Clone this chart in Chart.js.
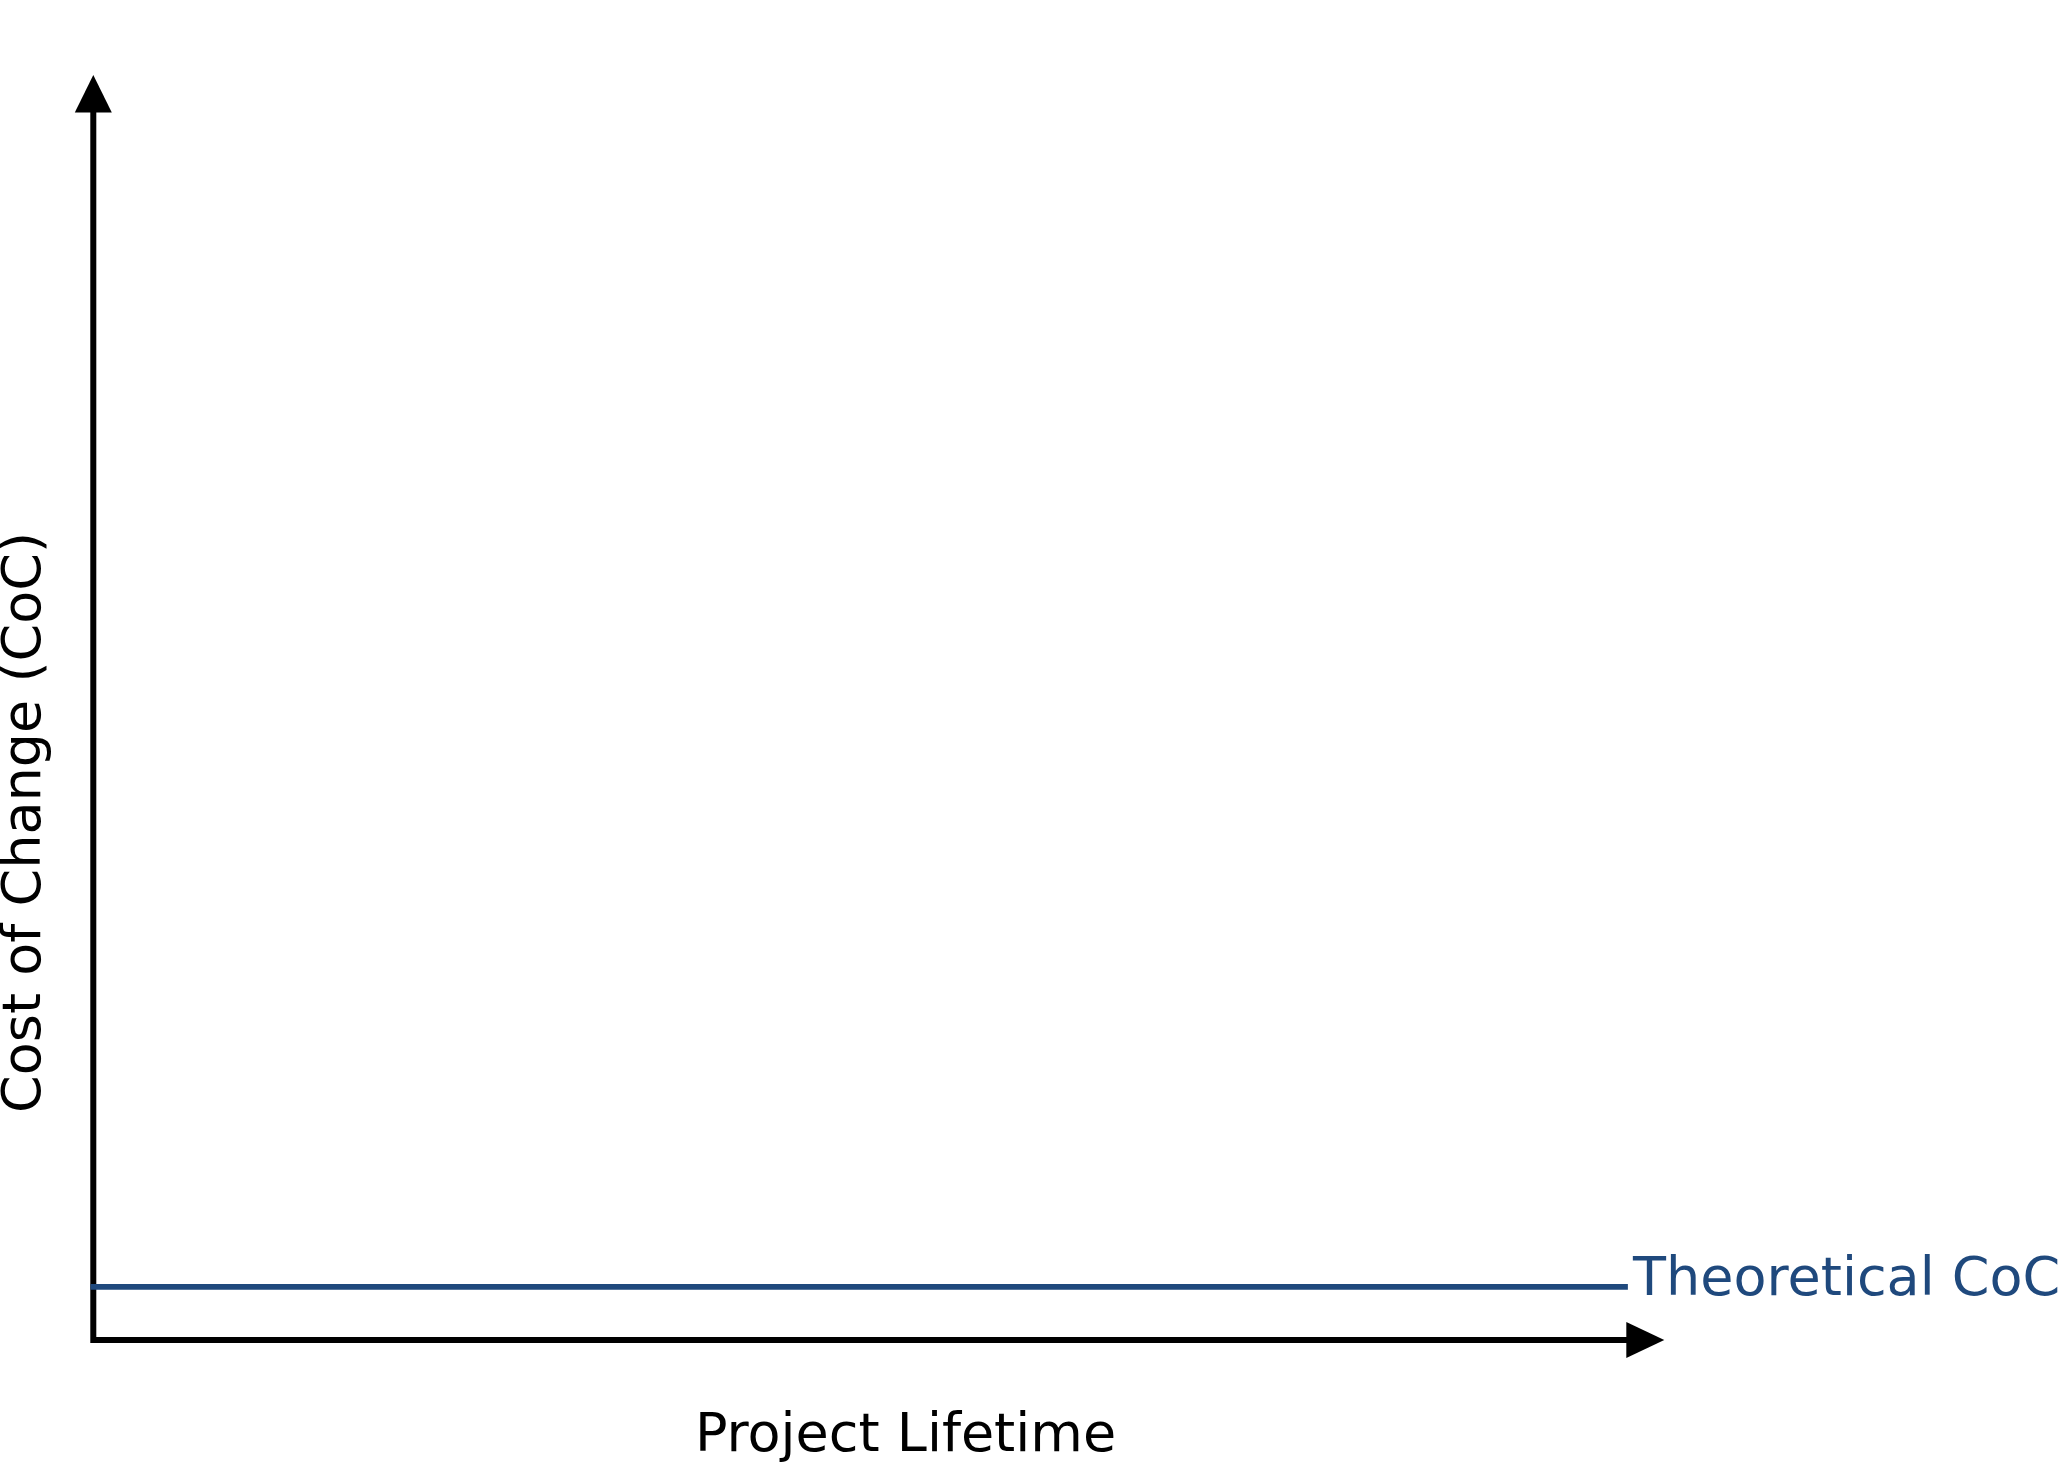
<!DOCTYPE html>
<html>
<head>
<meta charset="utf-8">
<script src="https://cdn.jsdelivr.net/npm/chart.js@4.4.1/dist/chart.umd.min.js"></script>
<style>
  html, body { margin: 0; padding: 0; background: #ffffff; }
  canvas { display: block; }
</style>
</head>
<body>
<canvas id="c" width="2062" height="1463"></canvas>
<script>
// ---- data ----
const lifetimePoints = [0, 97.5];          // project lifetime (x, % of axis)
const theoreticalCoC = [4.2, 4.2];         // cost of change (y, % of axis)
const seriesLabel = "Theoretical CoC";
const xAxisTitle = "Project Lifetime";
const yAxisTitle = "Cost of Change (CoC)";

const FONT = '"DejaVu Sans", "Liberation Sans", sans-serif';
const BLUE = '#1F497D';

const axesPlugin = {
  id: 'arrowAxes',
  beforeDatasetsDraw(chart) {
    const ctx = chart.ctx;
    const xs = chart.scales.x, ys = chart.scales.y;
    const x0 = xs.getPixelForValue(0), y0 = ys.getPixelForValue(0);
    const xEnd = xs.getPixelForValue(100), yEnd = ys.getPixelForValue(100);
    ctx.save();
    ctx.strokeStyle = '#000'; ctx.fillStyle = '#000';
    ctx.lineWidth = 6; ctx.lineCap = 'butt';
    // axes as one path so the corner is joined
    ctx.beginPath();
    ctx.moveTo(x0, yEnd + 37);
    ctx.lineTo(x0, y0);
    ctx.lineTo(xEnd - 37, y0);
    ctx.lineJoin = 'miter';
    ctx.stroke();
    // up arrow
    ctx.beginPath();
    ctx.moveTo(x0, yEnd);
    ctx.lineTo(x0 - 18.5, yEnd + 37.5);
    ctx.lineTo(x0 + 18.5, yEnd + 37.5);
    ctx.closePath(); ctx.fill();
    // right arrow
    ctx.beginPath();
    ctx.moveTo(xEnd, y0);
    ctx.lineTo(xEnd - 38, y0 - 18);
    ctx.lineTo(xEnd - 38, y0 + 18);
    ctx.closePath(); ctx.fill();
    ctx.restore();
  },
  afterDatasetsDraw(chart) {
    const ctx = chart.ctx;
    const ds = chart.getDatasetMeta(0).data;
    const last = ds[ds.length - 1];
    ctx.save();
    ctx.font = '54px ' + FONT;
    ctx.textBaseline = 'alphabetic';
    // series label at line end
    ctx.fillStyle = BLUE;
    ctx.textAlign = 'left';
    ctx.fillText(seriesLabel, 1633, last.y + 8);
    // x title
    ctx.fillStyle = '#000';
    ctx.textAlign = 'center';
    ctx.fillText(xAxisTitle, 905.5, 1451);
    // y title
    ctx.translate(40, 822.5);
    ctx.rotate(-Math.PI / 2);
    ctx.fillText(yAxisTitle, 0, 0);
    ctx.restore();
  }
};

new Chart(document.getElementById('c'), {
  type: 'line',
  data: {
    datasets: [{
      label: seriesLabel,
      data: lifetimePoints.map((x, i) => ({ x: x, y: theoreticalCoC[i] })),
      borderColor: BLUE,
      borderWidth: 5.7,
      borderCapStyle: 'square',
      pointRadius: 0,
      fill: false,
      tension: 0,
      clip: false
    }]
  },
  options: {
    responsive: false,
    devicePixelRatio: 1,
    animation: false,
    layout: { padding: { left: 93.3, right: 2062 - 1664.3, top: 75, bottom: 1463 - 1340 } },
    plugins: { legend: { display: false }, tooltip: { enabled: false } },
    scales: {
      x: { type: 'linear', min: 0, max: 100, display: false },
      y: { type: 'linear', min: 0, max: 100, display: false }
    }
  },
  plugins: [axesPlugin]
});
</script>
</body>
</html>
